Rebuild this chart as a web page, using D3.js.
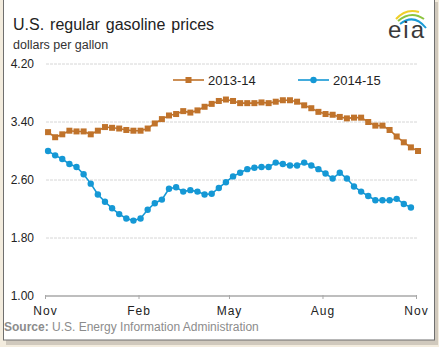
<!DOCTYPE html>
<html>
<head>
<meta charset="utf-8">
<script src="https://cdn.jsdelivr.net/npm/d3@7"></script>
<style>
  html, body { margin: 0; padding: 0; background: #f3ecde; }
  svg { display: block; }
  text { font-family: "Liberation Sans", Arial, sans-serif; }
</style>
</head>
<body>
<svg id="chart" width="439" height="347"></svg>
<script>
// ---- data ----
const seriesNames = ["2013-14", "2014-15"];
const firstWeek = "2013-11-04";
const prices2013 = [3.26, 3.19, 3.23, 3.28, 3.27, 3.27, 3.23, 3.28, 3.33, 3.32, 3.31, 3.29, 3.28,
  3.28, 3.31, 3.38, 3.44, 3.49, 3.51, 3.55, 3.53, 3.56, 3.61, 3.65, 3.69, 3.71, 3.69, 3.66,
  3.66, 3.66, 3.67, 3.66, 3.68, 3.70, 3.70, 3.68, 3.63, 3.59, 3.54, 3.51, 3.50, 3.47, 3.45,
  3.46, 3.46, 3.40, 3.35, 3.35, 3.29, 3.20, 3.12, 3.05, 3.00];
const prices2014 = [3.00, 2.94, 2.89, 2.82, 2.78, 2.68, 2.55, 2.40, 2.30, 2.21, 2.13, 2.07, 2.04,
  2.07, 2.19, 2.28, 2.33, 2.48, 2.50, 2.44, 2.46, 2.44, 2.40, 2.41, 2.49, 2.57, 2.65, 2.70,
  2.75, 2.77, 2.78, 2.78, 2.84, 2.82, 2.80, 2.80, 2.84, 2.80, 2.75, 2.69, 2.62, 2.70, 2.62,
  2.51, 2.44, 2.38, 2.32, 2.32, 2.32, 2.34, 2.27, 2.22];
const xTickDates = ["2013-11-01", "2014-02-01", "2014-05-01", "2014-08-01", "2014-11-01"];
const xTickLabels = ["Nov", "Feb", "May", "Aug", "Nov"];
const yTicks = [1.00, 1.80, 2.60, 3.40, 4.20];

// ---- setup ----
const parse = d3.timeParse("%Y-%m-%d");
const start = parse(firstWeek);
const weekDate = i => d3.timeDay.offset(start, 7 * i);

const svg = d3.select("#chart");
const colors = ["#c0732b", "#1598d5"];

// frame / card
svg.append("rect").attr("x", 6).attr("y", 2).attr("width", 432).attr("height", 343)
  .attr("fill", "#b9b2a6").attr("opacity", 0.6);
svg.append("rect").attr("x", 3.5).attr("y", -1).attr("width", 431).attr("height", 341)
  .attr("fill", "#fff").attr("stroke", "#6f6f6f").attr("stroke-width", 1);

const x = d3.scaleTime().domain([parse(xTickDates[0]), parse(xTickDates[4])]).range([45, 416]);
const y = d3.scaleLinear().domain([1, 4.2]).range([296, 64]);

// title
svg.append("text").attr("x", 13).attr("y", 30).attr("font-size", 16).attr("fill", "#222")
  .attr("word-spacing", 1.5).text("U.S. regular gasoline prices");
svg.append("text").attr("x", 13).attr("y", 49).attr("font-size", 12.5).attr("fill", "#333")
  .text("dollars per gallon");

// gridlines
svg.append("g").selectAll("line").data(yTicks.slice(1)).join("line")
  .attr("x1", 46).attr("x2", 418).attr("y1", d => y(d)).attr("y2", d => y(d))
  .attr("stroke", "#d6d6d6").attr("stroke-width", 1).attr("stroke-dasharray", "3,1");

// y axis labels
const yAxis = d3.axisLeft(y).tickValues(yTicks).tickFormat(d3.format(".2f")).tickSize(0).tickPadding(0);
const gy = svg.append("g").attr("transform", "translate(34,0)").call(yAxis);
gy.select(".domain").remove();
gy.selectAll("text").attr("font-size", 12).attr("fill", "#222")
  .attr("font-family", "Liberation Sans, Arial, sans-serif");

// x axis
const xAxis = d3.axisBottom(x).tickValues(xTickDates.map(parse))
  .tickFormat((d, i) => xTickLabels[i]).tickSizeInner(4).tickSizeOuter(0).tickPadding(6);
const gx = svg.append("g").attr("transform", `translate(0,${y(1)})`).call(xAxis);
gx.select(".domain").attr("stroke", "#a8a8a8").attr("stroke-width", 1.5).attr("d", "M45,0H417");
gx.selectAll(".tick line").attr("stroke", "#a8a8a8").attr("stroke-width", 1).attr("y1", -1).attr("y2", 3);
gx.selectAll("text").attr("font-size", 12).attr("fill", "#222").attr("letter-spacing", 1)
  .attr("font-family", "Liberation Sans, Arial, sans-serif");

// series
const line = d3.line().x((d, i) => x(weekDate(i))).y(d => y(d));
[prices2013, prices2014].forEach((arr, k) => {
  const g = svg.append("g");
  g.append("path").datum(arr).attr("d", line).attr("fill", "none")
    .attr("stroke", colors[k]).attr("stroke-width", 1.6);
  if (k === 0) {
    g.selectAll("rect").data(arr).join("rect")
      .attr("x", (d, i) => x(weekDate(i)) - 3).attr("y", d => y(d) - 3)
      .attr("width", 6).attr("height", 6).attr("fill", colors[0]);
  } else {
    g.selectAll("circle").data(arr).join("circle")
      .attr("cx", (d, i) => x(weekDate(i))).attr("cy", d => y(d))
      .attr("r", 3.2).attr("fill", colors[1]);
  }
});

// legend
const legendX = [173, 298];
seriesNames.forEach((name, k) => {
  const g = svg.append("g").attr("transform", `translate(${legendX[k]},80)`);
  g.append("line").attr("x1", 0).attr("x2", 31).attr("stroke", colors[k]).attr("stroke-width", 1.6);
  if (k === 0) g.append("rect").attr("x", 12.5).attr("y", -3).attr("width", 6).attr("height", 6).attr("fill", colors[0]);
  else g.append("circle").attr("cx", 15.5).attr("r", 3.2).attr("fill", colors[1]);
  g.append("text").attr("x", 35).attr("y", 5).attr("font-size", 13).attr("fill", "#222").text(name);
});

// source
const src = svg.append("text").attr("x", 4).attr("y", 331).attr("font-size", 12).attr("fill", "#8c8c8c");
src.append("tspan").attr("font-weight", "bold").text("Source:");
src.append("tspan").text(" U.S. Energy Information Administration");

// eia logo
const logo = svg.append("g");
const arcPaths = [
  ["#f0cf2a", "M396,19 Q406,8 419,12"],
  ["#8cc43f", "M398,21 Q411,10 424,19"],
  ["#1a9ad6", "M400,24 Q414,13 426,28"]
];
arcPaths.forEach(([c, d]) => {
  logo.append("path").attr("d", d).attr("fill", "none").attr("stroke", c).attr("stroke-width", 2);
});
logo.append("text").attr("x", 388).attr("y", 38).attr("font-size", 24).attr("letter-spacing", 2)
  .attr("font-family", "Liberation Serif, DejaVu Serif, serif").attr("fill", "#3a3a3a").text("eia");
</script>
</body>
</html>
